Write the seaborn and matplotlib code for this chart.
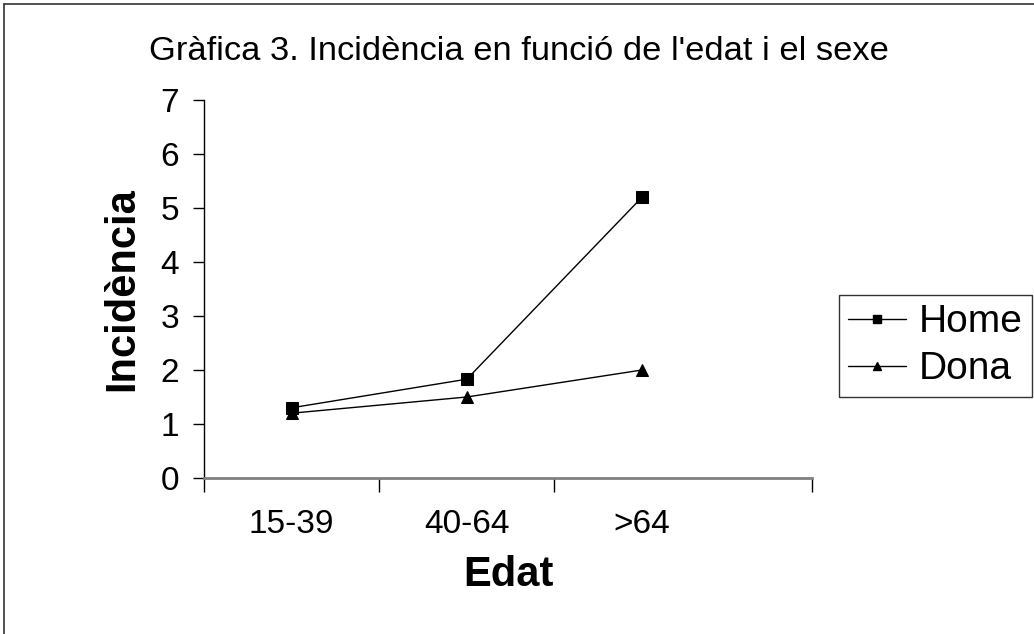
import matplotlib
matplotlib.use("Agg")
import matplotlib.pyplot as plt
from matplotlib.lines import Line2D
import seaborn as sns
import pandas as pd

# Incidence by age group and sex
age_groups = ["15-39", "40-64", ">64"]
home = [1.3, 1.83, 5.2]
dona = [1.2, 1.5, 2.0]
series_names = ["Home", "Dona"]
y_ticks = [0, 1, 2, 3, 4, 5, 6, 7]

title = "Gràfica 3. Incidència en funció de l'edat i el sexe"
x_label = "Edat"
y_label = "Incidència"

df = pd.DataFrame({
    "Edat": age_groups * 2,
    "Incidència": home + dona,
    "Sexe": [series_names[0]] * 3 + [series_names[1]] * 3,
})

sns.set_theme(style="white")
plt.rcParams["font.family"] = ["Liberation Sans", "DejaVu Sans"]
plt.rcParams["text.color"] = "black"
plt.rcParams["axes.labelcolor"] = "black"
plt.rcParams["xtick.color"] = "black"
plt.rcParams["ytick.color"] = "black"

W, H = 1034, 634
fig = plt.figure(figsize=(W / 100, H / 100), dpi=100)
ax = fig.add_axes([204 / W, 1 - 478 / H, (812 - 204) / W, (478 - 100) / H])

sns.lineplot(
    data=df, x="Edat", y="Incidència", hue="Sexe", style="Sexe",
    markers={"Home": "s", "Dona": "^"}, dashes=False,
    palette={"Home": "black", "Dona": "black"},
    markersize=8, linewidth=1, markeredgecolor="black",
    sort=False, ax=ax, legend=False,
)

ax.set_xlim(-0.5, 2.97)
ax.set_ylim(0, 7)
ax.set_yticks(y_ticks)
ax.set_yticklabels([str(v) for v in y_ticks])
ax.set_xticks(range(len(age_groups)))
ax.set_xticklabels(age_groups)
ax.set_xticks([-0.5, 0.5, 1.5, 2.97], minor=True)

ax.tick_params(axis="x", which="major", length=0, pad=22, labelsize=24, labelcolor="black")
ax.tick_params(axis="x", which="minor", direction="out", length=10, width=1, color="black", bottom=True)
ax.tick_params(axis="y", direction="out", length=8, width=1, color="black", left=True,
               labelsize=24, pad=10, labelcolor="black")

for side in ["top", "right"]:
    ax.spines[side].set_visible(False)
ax.spines["left"].set_color("black")
ax.spines["left"].set_linewidth(1)
ax.spines["bottom"].set_color("#808080")
ax.spines["bottom"].set_linewidth(2)

ax.set_xlabel(x_label, fontsize=30, fontweight="bold", labelpad=11, color="black")
ax.set_ylabel(y_label, fontsize=30, fontweight="bold", labelpad=13, color="black")

fig.text(519 / W, 1 - 51 / H, title, ha="center", va="center", fontsize=24.8, color="black")

# Outer chart frame
fig.add_artist(Line2D([4 / W, 4 / W], [0, 1 - 4 / H], transform=fig.transFigure,
                      color="#333333", lw=1.2))
fig.add_artist(Line2D([4 / W, 1], [1 - 4 / H, 1 - 4 / H], transform=fig.transFigure,
                      color="#333333", lw=1.2))

handles = [
    Line2D([], [], color="black", lw=1, marker="s", markersize=6, label=series_names[0]),
    Line2D([], [], color="black", lw=1, marker="^", markersize=6, label=series_names[1]),
]
leg = fig.legend(
    handles=handles, loc="upper left", bbox_to_anchor=(839 / W, 1 - 295 / H),
    bbox_transform=fig.transFigure, fontsize=28, frameon=True, fancybox=False,
    handlelength=1.47, handletextpad=0.33, borderpad=0.24, labelspacing=0.28,
    borderaxespad=0,
)
leg.get_frame().set_edgecolor("black")
leg.get_frame().set_linewidth(1)
for t in leg.get_texts():
    t.set_color("black")

fig.savefig("out.png", dpi=100, facecolor="white")
